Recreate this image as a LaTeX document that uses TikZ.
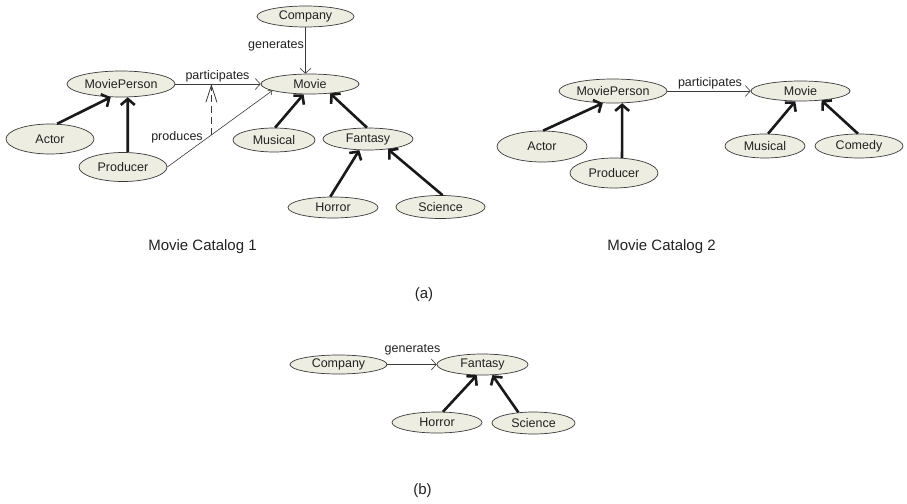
\documentclass[tikz,border=0pt]{standalone}
\usepackage{fontspec}
\setmainfont{Liberation Sans}
\usetikzlibrary{shapes.geometric,arrows.meta,calc}
\definecolor{ellfill}{HTML}{EDEDE1}
\definecolor{ellline}{HTML}{3A3A3A}
\definecolor{txt}{HTML}{222222}
\tikzset{
  ent/.style={ellipse,draw=ellline,line width=0.7pt,fill=ellfill,inner sep=0pt,
    text=txt,font=\fontsize{12.5}{15}\selectfont},
  isa/.style={line width=2.6pt,draw=black!90,
    -{Straight Barb[length=6pt,width=14pt]}},
  rel/.style={line width=0.6pt,draw=ellline,
    -{Straight Barb[length=5pt,width=11pt,line width=0.6pt]}},
  relsmall/.style={line width=0.6pt,draw=ellline,
    -{Straight Barb[length=3pt,width=6pt,line width=0.6pt]}},
  dashrel/.style={line width=0.9pt,draw=ellline,dash pattern=on 7pt off 4pt,
    -{Straight Barb[length=17pt,width=11pt,line width=0.8pt]}},
  lbl/.style={text=txt,font=\fontsize{12.5}{15}\selectfont,inner sep=0pt},
  captxt/.style={text=txt,font=\fontsize{15}{18}\selectfont,inner sep=0pt}
}
\begin{document}
\begin{tikzpicture}[x=1pt,y=-1pt]
\useasboundingbox[fill=white] (0,0) rectangle (907,503);
% ---------- Movie Catalog 1 ----------
\node[ent,minimum width=97pt,minimum height=21pt] (comp) at (305.5,16.5) {Company};
\node[ent,minimum width=108pt,minimum height=26pt] (mp) at (121,84) {MoviePerson};
\node[ent,minimum width=98pt,minimum height=20pt] (movie) at (310,84) {Movie};
\node[ent,minimum width=88pt,minimum height=30pt] (actor) at (50,139) {Actor};
\node[ent,minimum width=88pt,minimum height=29pt] (prod) at (123,167) {Producer};
\node[ent,minimum width=82pt,minimum height=24pt] (mus) at (274,140) {Musical};
\node[ent,minimum width=90pt,minimum height=22pt] (fan) at (368,139) {Fantasy};
\node[ent,minimum width=90pt,minimum height=21pt] (hor) at (333,207.5) {Horror};
\node[ent,minimum width=89pt,minimum height=23pt] (sci) at (440.5,207) {Science};

\draw[isa] (actor.65) -- (mp.-128);
\draw[isa] (prod.72) -- (mp.-63);
\draw[isa] (mus.85) -- (movie.-122);
\draw[isa] (fan.95) -- (movie.-25);
\draw[isa] (hor.104) -- (fan.-128);
\draw[isa] (sci.80) -- (fan.-27);

\draw[rel] (comp.south) -- (comp.south |- movie.north);
\draw[rel] (mp.east) -- (movie.west);
\draw[relsmall] (prod.east) -- (movie.190);
\coordinate (dA) at ($(prod.east)!0.42!(movie.190)$);
\coordinate (dB) at (dA |- mp.east);
\draw[dashrel] (dA) -- (dB);

\node[lbl] (lgen) at (276,46) {generates};
\node[lbl] (lpart) at (217.5,76) {participates};
\node[lbl] (lprod) at (177,137) {produces};

\node[captxt] (cap1) at (202.5,247) {Movie Catalog 1};

% ---------- Movie Catalog 2 ----------
\node[ent,minimum width=108pt,minimum height=24pt] (mp2) at (613,91) {MoviePerson};
\node[ent,minimum width=99pt,minimum height=20pt] (movie2) at (800.5,91) {Movie};
\node[ent,minimum width=90pt,minimum height=31pt] (actor2) at (542,146.5) {Actor};
\node[ent,minimum width=88pt,minimum height=30pt] (prod2) at (614,173) {Producer};
\node[ent,minimum width=80pt,minimum height=24pt] (mus2) at (765,146) {Musical};
\node[ent,minimum width=88pt,minimum height=24pt] (com2) at (859,146) {Comedy};

\draw[isa] (actor2.86) -- (mp2.-130);
\draw[isa] (prod2.62) -- (mp2.-53);
\draw[isa] (mus2.76) -- (movie2.-117);
\draw[isa] (com2.95) -- (movie2.-24);
\draw[rel] (mp2.east) -- (movie2.west);
\node[lbl] (lpart2) at (710,83) {participates};

\node[captxt] (cap2) at (661.5,247) {Movie Catalog 2};

\node[captxt] (capa) at (424,295) {(a)};

% ---------- (b) ----------
\node[ent,minimum width=97pt,minimum height=19pt] (comp3) at (338.5,364.5) {Company};
\node[ent,minimum width=91pt,minimum height=21pt] (fan3) at (482.5,364.5) {Fantasy};
\node[ent,minimum width=90pt,minimum height=21pt] (hor3) at (437,422.5) {Horror};
\node[ent,minimum width=83pt,minimum height=22pt] (sci3) at (533.5,423) {Science};

\draw[isa] (hor3.61) -- (fan3.-118);
\draw[isa] (sci3.145) -- (fan3.-47);
\draw[rel] (comp3.east) -- (fan3.west);
\node[lbl] (lgen3) at (412.5,350) {generates};

\node[captxt] (capb) at (422.5,491) {(b)};
\end{tikzpicture}
\end{document}
